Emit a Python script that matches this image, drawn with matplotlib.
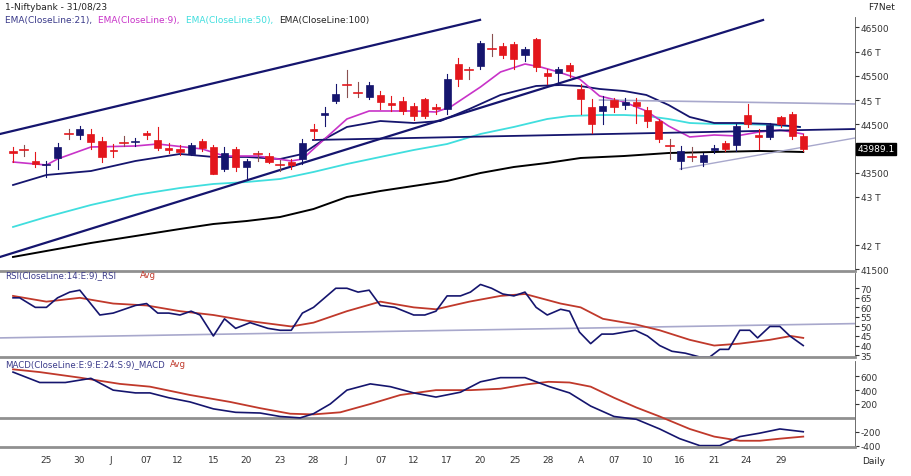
import matplotlib
matplotlib.use("Agg")
import matplotlib.pyplot as plt
from matplotlib.patches import Rectangle
import numpy as np

# OHLC per bar
ohlc = [
(43947,44029,43719,43905),(43967,44071,43843,43960),(43740,43926,43616,43678),(43657,43740,43409,43660),
(43802,44112,43575,44029),(44298,44401,44195,44290),(44277,44463,44195,44401),(44298,44401,43988,44133),
(44153,44236,43719,43823),(43967,44091,43823,43940),(44133,44257,44050,44120),(44133,44215,44050,44140),
(44319,44360,44195,44277),(44174,44443,43967,44009),(44009,44112,43905,43970),(43988,44071,43864,43926),
(43885,44112,43864,44071),(44153,44195,43947,44009),(44029,44071,43471,43471),(43575,44029,43533,43905),
(43988,44029,43533,43616),(43616,43781,43368,43740),(43885,43947,43740,43880),(43843,43905,43699,43719),
(43657,43761,43533,43650),(43719,43781,43575,43657),(43781,44195,43678,44112),(44401,44505,44195,44360),
(44690,44856,44463,44732),(44980,45331,44938,45124),(45331,45620,45062,45320),(45166,45372,45062,45150),
(45062,45372,45021,45310),(45104,45186,44814,44959),(44938,45083,44773,44897),(44980,45062,44711,44773),
(44876,44938,44587,44670),(45021,45042,44628,44670),(44856,44918,44711,44820),(44814,45538,44711,45434),
(45744,45868,45290,45434),(45641,45682,45434,45630),(45703,46219,45641,46178),(46075,46364,45909,46060),
(46116,46178,45868,45930),(46157,46199,45641,45848),(45930,46095,45806,46054),(46261,46281,45599,45682),
(45558,45641,45331,45500),(45558,45682,45331,45641),(45723,45765,45476,45599),(45228,45331,44711,45021),
(44856,45021,44319,44505),(44773,45083,44505,44876),(45000,45042,44752,44856),(44897,45042,44814,44959),
(44959,45042,44525,44876),(44794,44856,44443,44566),(44566,44608,44133,44195),(44050,44195,43781,44040),
(43740,44050,43575,43947),(43843,44029,43740,43830),(43719,43905,43637,43864),(43967,44071,43905,44009),
(44112,44153,43947,43988),(44071,44505,43947,44463),(44690,44918,44443,44505),(44277,44401,43988,44236),
(44236,44525,44195,44484),(44649,44670,44443,44505),(44711,44752,44195,44257),(44257,44298,43947,43988),
]

ema9_x = [0,3,4,7,11,13,17,19,22,25,26,28,30,32,36,38,39.3,42,43.8,46,47.4,49,50.9,52.7,54.9,56.9,58.9,60.8,63,65,67,68.9,71]
ema9_v = [43719,43657,43781,44029,44050,44091,43988,43843,43843,43740,43781,44195,44608,44773,44773,44752,44856,45269,45579,45744,45682,45579,45434,45083,44959,44773,44463,44236,44277,44257,44339,44381,44298]
ema21_x = [0,3,7,11,15,18,21,24,26,28,30,33,36,38.4,41,43.8,47,49.2,50.9,52.7,54.9,56.9,58.9,60.8,63,65.3,68,70.7]
ema21_v = [43244,43451,43533,43740,43885,43823,43823,43781,43885,44195,44443,44566,44525,44566,44814,45104,45290,45310,45290,45228,45186,45104,44897,44649,44525,44525,44505,44443]
ema50_x = [0,3,7,11,15,18,21,24,27,30,33,36,39,42,45,48,50,52.7,54.9,56.9,58.9,60.8,63,65.3,68,70.7]
ema50_v = [42377,42583,42831,43038,43182,43265,43306,43368,43513,43678,43823,43967,44091,44298,44443,44608,44670,44690,44690,44670,44608,44525,44505,44505,44484,44443]
ema100_x = [0,3,7,11,15,18,21,24,27,30,33,36,39,42,45,48,51,54.9,58.9,63,67.1,71]
ema100_v = [41757,41881,42046,42190,42335,42438,42500,42583,42748,42996,43120,43224,43327,43492,43616,43699,43802,43843,43905,43926,43947,43926]

rsi_x = [0,0.6,2,3,4,5.1,6,7.8,9,11,12,13,14,15,16,16.8,18,19,20,21.3,22.9,24,25,26,27,28,29,30,31,32,33,34.3,36,37,38,39,40.2,41.1,42,43,44,45,46,47,48,49.2,50,50.9,51.9,52.9,53.9,54.9,55.9,57,58.1,59.2,60.4,61.7,62.6,63.5,64.3,65.3,66.2,66.9,68,68.9,69.8,71]
rsi_v = [65,65,60,60,65,68,69,56,57,61,62,57,57,56,58,56,45,54,49,52,49,48,48,57,60,65,70,70,68,69,61,60,56,56,58,66,66,68,72,70,67,66,68,60,56,59,58,47,41,46,46,47,48,45,40,37,36,34,34,38,38,48,48,44,50,50,45,40]
rsiavg_x = [0,3,6,9,12,15,18,21,25,27,30,33,36,38,41,43.8,46,49.2,51,53,56,58.1,60.8,63,65.3,68,69.9,71]
rsiavg_v = [66,63,65,62,61,58,56,53,50,52,58,63,60,59,63,66,67,62,60,54,51,48,43,40,41,43,45,44]

macd_x = [0,2.4,4.7,7,9,11,12.3,14,15.9,18,20,22.2,24,25.8,27,28.5,30,32.1,33.9,36,38,40.2,42,43.8,46,48.2,50,51.9,54,56,58.1,59.9,61.7,63.5,65.3,67.1,68.9,71]
macd_v = [660,510,510,570,400,360,360,290,230,130,80,70,20,0,60,200,400,490,450,360,300,370,520,580,580,450,360,170,20,-20,-160,-300,-400,-400,-270,-220,-160,-200]
macdavg_x = [0,2.4,6,9.6,12.3,15.9,19.5,22.2,24.9,27,29.4,32.1,34.8,38,41.1,43.8,46,48.1,50,51.9,54,56,58.1,60.8,63,65.3,67.1,68.9,71]
macdavg_v = [700,660,580,490,450,330,230,140,60,50,80,200,330,400,400,420,480,520,510,450,290,150,20,-160,-270,-330,-330,-300,-270]

date_labels = ["25","30","J","07","12","15","20","23","28","J","07","12","17","20","25","28","A","07","10","16","21","24","29"]
date_pos = [3,5.9,8.8,12,14.8,18,20.9,24,27,29.9,33.1,36,39,42,45.1,48.1,51,54,57,59.9,63,65.9,69]

RED = "#e3161c"; NAVY = "#15156e"; MAG = "#c833c8"; CYAN = "#40dede"
W, H = 911, 477
fig = plt.figure(figsize=(W/100, H/100), dpi=100)
def ax_px(top, bot):
    return fig.add_axes([0, 1-bot/H, 855/W, (bot-top)/H])
ax = ax_px(18, 272)
axr = ax_px(274, 358)
axm = ax_px(362, 448)
xl = (-1.17, 75.65)
for a in (ax, axr, axm):
    a.set_xlim(*xl)
    for s in ("left", "top", "right"):
        a.spines[s].set_visible(False)
    a.spines["bottom"].set_color("#909090"); a.spines["bottom"].set_linewidth(2)
    a.yaxis.tick_right()
    a.tick_params(axis="y", labelsize=6.5, colors="#333333", length=3, pad=1, direction="out")
    a.set_xticks([])
    a.spines["right"].set_visible(True); a.spines["right"].set_color("#555555"); a.spines["right"].set_linewidth(0.6)

# candles
for i, (o, h, l, c) in enumerate(ohlc):
    col = NAVY if c > o else RED
    ax.plot([i, i], [l, h], color=col if abs(c-o) > 25 else ("#8a5050" if c <= o else NAVY), lw=0.8, zorder=3)
    if abs(c-o) > 25:
        ax.add_patch(Rectangle((i-0.32, min(o, c)), 0.64, abs(c-o), facecolor=col, edgecolor=col, lw=0.5, zorder=4))
    else:
        ax.plot([i-0.35, i+0.35], [c, c], color=col, lw=1.2, zorder=4)

ax.plot(ema100_x, ema100_v, color="black", lw=1.4)
ax.plot(ema50_x, ema50_v, color=CYAN, lw=1.3)
ax.plot(ema21_x, ema21_v, color=NAVY, lw=1.3)
ax.plot(ema9_x, ema9_v, color=MAG, lw=1.2)
ax.plot([-1.17, 41.96], [44298, 46508+ (46508-44298)/40.43*2.7], color=NAVY, lw=1.6)
ax.plot([-1.17, 67.39], [41757, 46653], color=NAVY, lw=1.6)
ax.plot([26.95, 75.65], [44174, 44401], color=NAVY, lw=1.3)
ax.plot([52.7, 75.65], [45000, 44918], color="#a8a8cc", lw=1.2)
ax.plot([59.93, 75.65], [43575, 44215], color="#a8a8cc", lw=1.0)
ax.set_ylim(41467, 46715)
ax.set_yticks([46500, 46000, 45500, 45000, 44500, 43500, 43000, 42000, 41500])
ax.set_yticklabels(["46500", "46 T", "45500", "45 T", "44500", "43500", "43 T", "42 T", "41500"])
ax.text(1.003, (43989-41467)/(46715-41467), "43989.1", transform=ax.transAxes, fontsize=6.5,
        color="white", va="center", ha="left", bbox=dict(facecolor="black", edgecolor="black", pad=1))

axr.plot([-1.17, 75.65], [44, 51.5], color="#a8a8cc", lw=1.2)
axr.plot(rsiavg_x, rsiavg_v, color="#c0392b", lw=1.3)
axr.plot(rsi_x, rsi_v, color=NAVY, lw=1.2)
axr.set_ylim(34, 78)
axr.set_yticks([70, 65, 60, 55, 50, 45, 40, 35])

axm.axhline(0, color="#909090", lw=2)
axm.plot(macdavg_x, macdavg_v, color="#c0392b", lw=1.3)
axm.plot(macd_x, macd_v, color=NAVY, lw=1.2)
axm.set_ylim(-420, 820)
axm.set_yticks([600, 400, 200, -200, -400])
axm.set_yticklabels(["600", "400", "200", "-200", "-400"])
axm.set_xticks(date_pos)
axm.set_xticklabels(date_labels)
axm.tick_params(axis="x", labelsize=6.5, colors="#333333", length=0, pad=6)

fig.text(5/W, 1-8/H, "1-Niftybank - 31/08/23", fontsize=6.5, va="center", color="#222222")
fig.text(868/W, 1-8/H, "F7Net", fontsize=6.5, va="center", color="#222222")
fig.text(862/W, 1-462/H, "Daily", fontsize=6.5, va="center", color="#222222")
x0 = 5
for txt, col in [("EMA(CloseLine:21), ", "#3a3a8a"), ("EMA(CloseLine:9), ", MAG), ("EMA(CloseLine:50), ", CYAN), ("EMA(CloseLine:100)", "#222222")]:
    t = fig.text(x0/W, 1-20/H, txt, fontsize=6.5, va="center", color=col)
    x0 += len(txt) * 4.9
fig.text(5/W, 1-276/H, "RSI(CloseLine:14:E:9)_RSI", fontsize=6.2, va="center", color="#3a3a8a")
fig.text(140/W, 1-276/H, "Avg", fontsize=6.2, va="center", color="#c0392b")
fig.text(5/W, 1-365/H, "MACD(CloseLine:E:9:E:24:S:9)_MACD", fontsize=6.2, va="center", color="#3a3a8a")
fig.text(170/W, 1-365/H, "Avg", fontsize=6.2, va="center", color="#c0392b")
fig.savefig("out.png", dpi=100)
